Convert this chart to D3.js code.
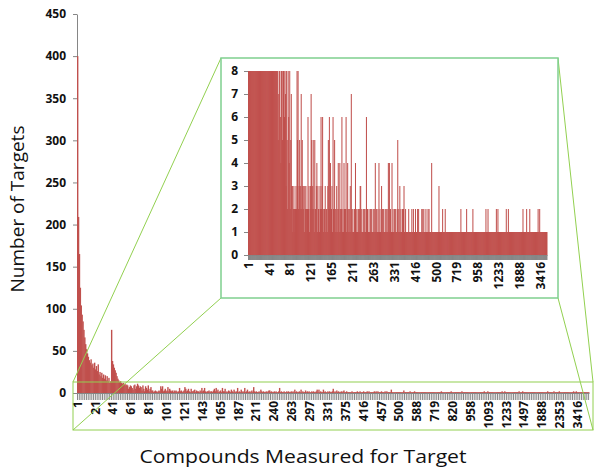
<!DOCTYPE html>
<html>
<head>
<meta charset="utf-8">
<script src="https://cdn.jsdelivr.net/npm/d3@7/dist/d3.min.js"></script>
<style>
  body { margin: 0; background: #fff; }
  svg { display: block; }
  .axis text { font-family: "Open Sans", sans-serif; font-weight: bold; font-size: 12px; fill: #111; }
  .axis path, .axis line { stroke: #868686; }
  .title { font-family: "Open Sans", sans-serif; font-size: 19px; fill: #111; }
</style>
</head>
<body>
<div class="barchart"></div>
<script>
// category labels, one every 20 categories
const tickLabels = ['1', '21', '41', '61', '81', '101', '121', '143', '165', '187', '211', '240', '263', '297',
  '331', '375', '416', '457', '500', '588', '719', '820', '958', '1093', '1233', '1497', '1888', '2353', '3416'];

// number of targets for each compound-count category
const counts = [
  400, 209, 165, 125, 104, 93, 85, 75, 66, 58,
  52, 47, 43, 39, 36, 40, 33, 35, 30, 36,
  28, 32, 26, 34, 22, 25, 20, 24, 18, 22,
  17, 21, 15, 20, 14, 18, 12, 14, 75, 38,
  34, 30, 27, 24, 20, 17, 15, 13, 14, 12,
  11, 12, 10, 11, 9, 10, 9,
  5, 7, 9, 8, 6, 4, 9, 10, 5, 8, 11, 9, 6, 8, 7, 3, 9, 5, 2, 8, 6, 4, 9, 2, 5, 7, 3, 3,
  1, 2, 3, 2, 1, 2, 3, 2, 8, 5,
  8, 2, 3, 5, 2, 3, 7, 2, 5, 3,
  2, 3, 1, 3, 2, 3, 2, 1, 2, 6,
  2, 3, 1, 2, 3, 7, 5, 2, 3, 5,
  2, 1, 5, 2, 2, 3, 4, 1, 3, 2,
  2, 1, 3, 2, 6, 2, 3, 6, 2, 1,
  2, 2, 3, 1, 2, 2, 1, 3, 5, 2,
  6, 2, 4, 1, 2, 3, 1, 6, 2, 2,
  5, 1, 2, 1, 3, 2, 1, 4, 2, 1,
  4, 2, 1, 2, 6, 1, 2, 1, 4, 2,
  1, 2, 6, 1, 2, 4, 1, 2, 1, 2,
  3, 1, 7, 2, 1,
  2, 1, 1, 2, 1, 4, 2, 1, 2, 1,
  1, 2, 1, 2, 3, 3, 1, 2, 1, 1,
  2, 1, 2, 1, 1, 2, 6, 1, 2, 1,
  1, 2, 1, 1, 2, 1, 2, 1, 1, 2,
  1, 2, 1, 4, 1, 2, 1, 1, 2, 1,
  4, 1, 2, 1, 1, 3, 1, 2, 1, 2,
  1, 1, 2, 1, 2, 1, 1, 2, 4, 1,
  4, 1, 2, 1, 1, 4, 1, 2, 1, 1,
  2, 1, 2, 1, 1, 2, 5, 1, 2, 1,
  3, 1, 2, 1, 1, 2, 1, 2, 3, 1,
  1, 2, 1, 1, 1, 1, 1, 2, 1, 1,
  1, 1, 1, 2, 1, 1, 2, 1, 1, 1,
  2, 1, 1, 1, 2, 1, 2, 1, 1, 1,
  1, 1, 2, 1, 2, 1, 2, 1, 1, 1,
  2, 1, 1, 1, 2, 1, 2, 1, 1, 1,
  1, 4, 1, 1, 1, 1, 1, 1, 1, 1,
  1, 1, 1, 1, 1, 3, 1, 1, 1, 1,
  1, 1, 2, 1, 1, 1, 1, 2, 1, 1,
  1, 1, 1, 1, 1, 1, 1, 1, 1, 1,
  1, 1, 1, 1, 1, 1, 1, 1, 1, 1,
  1, 1, 1, 1, 1, 1, 1, 2, 1, 1,
  1, 1, 1, 1, 1, 1, 1, 1, 2, 1,
  1, 1, 1, 1, 1, 1, 1, 1, 1, 1,
  2, 1, 1, 1, 1, 1, 1, 1, 1, 1,
  1, 1, 1, 1, 1, 1, 1, 1, 1, 1,
  1, 1, 1, 1, 1, 2, 1, 1, 1, 2,
  1, 1, 1, 1, 1, 1, 1, 1, 1, 1,
  1, 1, 1, 1, 1, 2, 1, 1, 2, 1,
  1, 1, 1, 1, 1, 1, 1, 1, 1, 1,
  1, 1, 1, 1, 2, 1, 1, 1, 2, 1,
  1, 1, 1, 1, 1, 1, 1, 1, 1, 1,
  1, 1, 1, 1, 1, 1, 1, 1, 1, 1,
  1, 1, 1, 1, 1, 1, 2, 1, 1, 1,
  1, 1, 1, 2, 1, 1, 1, 1, 1, 2,
  1, 1, 1, 1, 1, 1, 1, 1, 1, 1,
  1, 1, 1, 1, 1, 2, 1, 1, 2, 1,
  1, 1, 1, 1, 1, 1, 1, 1, 1, 1,
  1, 1, 1
];

const mainTicks = [0, 50, 100, 150, 200, 250, 300, 350, 400, 450];
const insetTicks = [0, 1, 2, 3, 4, 5, 6, 7, 8];
const labelEvery = 20;

const barColor = '#c0504d';
const zoomColor = '#92d050';
const overlap = 0.5; // bars are sub-pixel wide, overlap a little so they fill solid

let svg = d3.select('.barchart').append('svg')
  .attr('width', 600)
  .attr('height', 470);

let cats = d3.range(counts.length);
let labelCats = tickLabels.map((t, i) => i * labelEvery);

// main chart
let x = d3.scaleBand().domain(cats).range([77, 589]).padding(0);
let y = d3.scaleLinear().domain([0, 450]).range([393, 14]);

svg.append('g')
  .attr('class', 'axis')
  .attr('transform', 'translate(77,0)')
  .call(d3.axisLeft(y).tickValues(mainTicks).tickSize(4).tickSizeOuter(0).tickPadding(7));

svg.append('g')
  .attr('class', 'axis')
  .attr('transform', `translate(0,${y(0)})`)
  .call(d3.axisBottom(x).tickValues(cats.filter(i => i % 2 === 0)).tickSize(7).tickSizeOuter(0).tickFormat(''));

svg.append('g')
  .selectAll('rect')
  .data(counts)
  .enter().append('rect')
    .attr('fill', barColor)
    .attr('x', (d, i) => x(i))
    .attr('width', x.bandwidth() + overlap)
    .attr('y', d => y(d))
    .attr('height', d => y(0) - y(d));

let xLabels = svg.append('g')
  .attr('class', 'axis')
  .attr('transform', `translate(0,${y(0) + 7})`)
  .call(d3.axisBottom(x).tickValues(labelCats).tickSize(0).tickFormat(d => tickLabels[d / labelEvery]));
xLabels.select('.domain').remove();
xLabels.selectAll('text')
  .attr('transform', 'rotate(-90)')
  .attr('text-anchor', 'end')
  .attr('x', -1)
  .attr('y', 0)
  .attr('dy', '0.35em');

// zoom frame and connectors
let small = {x0: 73, y0: 382, x1: 593, y1: 430};
let big = {x0: 221, y0: 58, x1: 558, y1: 298};

svg.append('rect')
  .attr('x', small.x0).attr('y', small.y0)
  .attr('width', small.x1 - small.x0).attr('height', small.y1 - small.y0)
  .attr('fill', 'none')
  .attr('stroke', zoomColor);

let links = [
  [small.x0, small.y0, big.x0, big.y0],
  [small.x0, small.y1, big.x0, big.y1],
  [small.x1, small.y0, big.x1, big.y0],
  [small.x1, small.y1, big.x1, big.y1]
];
svg.append('g')
  .selectAll('line')
  .data(links)
  .enter().append('line')
    .attr('x1', d => d[0]).attr('y1', d => d[1])
    .attr('x2', d => d[2]).attr('y2', d => d[3])
    .attr('stroke', zoomColor)
    .attr('stroke-width', 1);

// inset chart
svg.append('rect')
  .attr('x', big.x0).attr('y', big.y0)
  .attr('width', big.x1 - big.x0).attr('height', big.y1 - big.y0)
  .attr('fill', '#fff')
  .attr('stroke', '#7fcf8f')
  .attr('stroke-width', 1.5);

let x2 = d3.scaleBand().domain(cats).range([248, 547]).padding(0);
let y2 = d3.scaleLinear().domain([0, 8]).range([255, 71]).clamp(true);

svg.append('g')
  .attr('class', 'axis')
  .attr('transform', 'translate(248,0)')
  .call(d3.axisLeft(y2).tickValues(insetTicks).tickSize(4).tickSizeOuter(0).tickPadding(6));

svg.append('g')
  .attr('class', 'axis')
  .attr('transform', `translate(0,${y2(0)})`)
  .call(d3.axisBottom(x2).tickValues(cats).tickSize(5).tickSizeOuter(0).tickFormat(''));

svg.append('g')
  .selectAll('rect')
  .data(counts)
  .enter().append('rect')
    .attr('fill', barColor)
    .attr('x', (d, i) => x2(i))
    .attr('width', x2.bandwidth() + overlap)
    .attr('y', d => y2(d))
    .attr('height', d => y2(0) - y2(d));

let x2Labels = svg.append('g')
  .attr('class', 'axis')
  .attr('transform', `translate(0,${y2(0) + 6})`)
  .call(d3.axisBottom(x2).tickValues(labelCats.filter((c, i) => i % 2 === 0)).tickSize(0).tickFormat(d => tickLabels[d / labelEvery]));
x2Labels.select('.domain').remove();
x2Labels.selectAll('text')
  .attr('transform', 'rotate(-90)')
  .attr('text-anchor', 'end')
  .attr('x', -1)
  .attr('y', 0)
  .attr('dy', '0.35em');

// axis titles
svg.append('text')
  .attr('class', 'title')
  .attr('transform', 'translate(24,209) rotate(-90)')
  .attr('text-anchor', 'middle')
  .text('Number of Targets');

svg.append('text')
  .attr('class', 'title')
  .attr('x', 303)
  .attr('y', 463)
  .attr('text-anchor', 'middle')
  .attr('textLength', 327)
  .attr('lengthAdjust', 'spacingAndGlyphs')
  .text('Compounds Measured for Target');
</script>
</body>
</html>
